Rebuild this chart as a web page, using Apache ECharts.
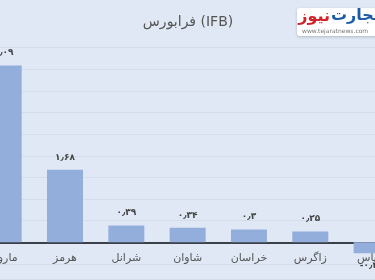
<!DOCTYPE html>
<html>
<head>
<meta charset="utf-8">
<script src="https://cdn.jsdelivr.net/npm/echarts@6/dist/echarts.min.js"></script>
<style>
html,body{margin:0;padding:0;background:#dfe8f4;overflow:hidden;width:375px;height:280px;}
#chart{width:430px;height:280px;position:absolute;left:-27px;top:0;}
</style>
</head>
<body>
<div id="chart"></div>
<script>
var categories = ['مارون', 'هرمز', 'شرانل', 'شاوان', 'خراسان', 'زاگرس', 'شپاس'];
var values = [4.09, 1.68, 0.39, 0.34, 0.3, 0.25, -0.25];
var titleText = 'فرابورس (IFB)';

function fa(n) {
  var s = String(n).replace('.', '٫');
  return s.replace(/[0-9]/g, function (d) { return '۰۱۲۳۴۵۶۷۸۹'[+d]; });
}

var OX = 27; // the canvas is wider than the window and shifted left
var chart = echarts.init(document.getElementById('chart'), null, {renderer: 'canvas'});
var font = 'DejaVu Sans';
chart.setOption({
  backgroundColor: '#dfe8f4',
  animation: false,
  title: {
    text: titleText, left: 'center', top: 10,
    textStyle: {fontFamily: font, fontSize: 14, fontWeight: 'normal', color: '#555'}
  },
  grid: {left: 0, right: 0.7, top: 47.7, bottom: 16, containLabel: false, outerBoundsMode: 'none'},
  xAxis: {
    type: 'category', data: categories,
    axisLine: {onZero: true, lineStyle: {color: '#3b4048', width: 2}},
    axisTick: {show: false},
    axisLabel: {margin: -11, fontFamily: font, fontSize: 11, color: '#555'}
  },
  yAxis: {
    type: 'value', min: -0.5, max: 4.5, interval: 0.5,
    axisLabel: {show: false}, axisLine: {show: false}, axisTick: {show: false},
    splitLine: {lineStyle: {color: '#d2dcea', width: 1}}
  },
  series: [{
    type: 'bar', barWidth: 36,
    itemStyle: {color: '#94aedb'},
    data: values.map(function (v) {
      return {value: v, label: {position: v < 0 ? 'bottom' : 'top'}};
    }),
    label: {
      show: true, distance: 8, fontFamily: font, fontSize: 9, fontWeight: 'bold', color: '#444',
      formatter: function (p) { return (p.value < 0 ? '-' : '') + fa(Math.abs(p.value)); }
    }
  }],
  graphic: [
    {type: 'line', shape: {x1: 0, y1: 279.5, x2: 430, y2: 279.5}, style: {stroke: '#d2dcea', lineWidth: 1}},
    {type: 'rect', shape: {x: 297 + OX, y: 8, width: 90, height: 28, r: 3},
     style: {fill: '#ffffff', shadowBlur: 3, shadowColor: 'rgba(0,0,0,0.2)', shadowOffsetY: 1}},
    {type: 'text', style: {x: 330 + OX, y: 17, text: 'نیوز', textAlign: 'right', textVerticalAlign: 'middle',
      font: 'bold 16px "DejaVu Sans"', fill: '#d2232a'}},
    {type: 'text', style: {x: 331 + OX, y: 16, text: 'تجارت', textAlign: 'left', textVerticalAlign: 'middle',
      font: 'bold 16px "DejaVu Sans"', fill: '#1f5ca8'}},
    {type: 'text', style: {x: 302 + OX, y: 31, text: 'www.tejaratnews.com', textAlign: 'left', textVerticalAlign: 'middle',
      font: '6px "DejaVu Sans"', fill: '#777'}}
  ]
});
</script>
</body>
</html>
